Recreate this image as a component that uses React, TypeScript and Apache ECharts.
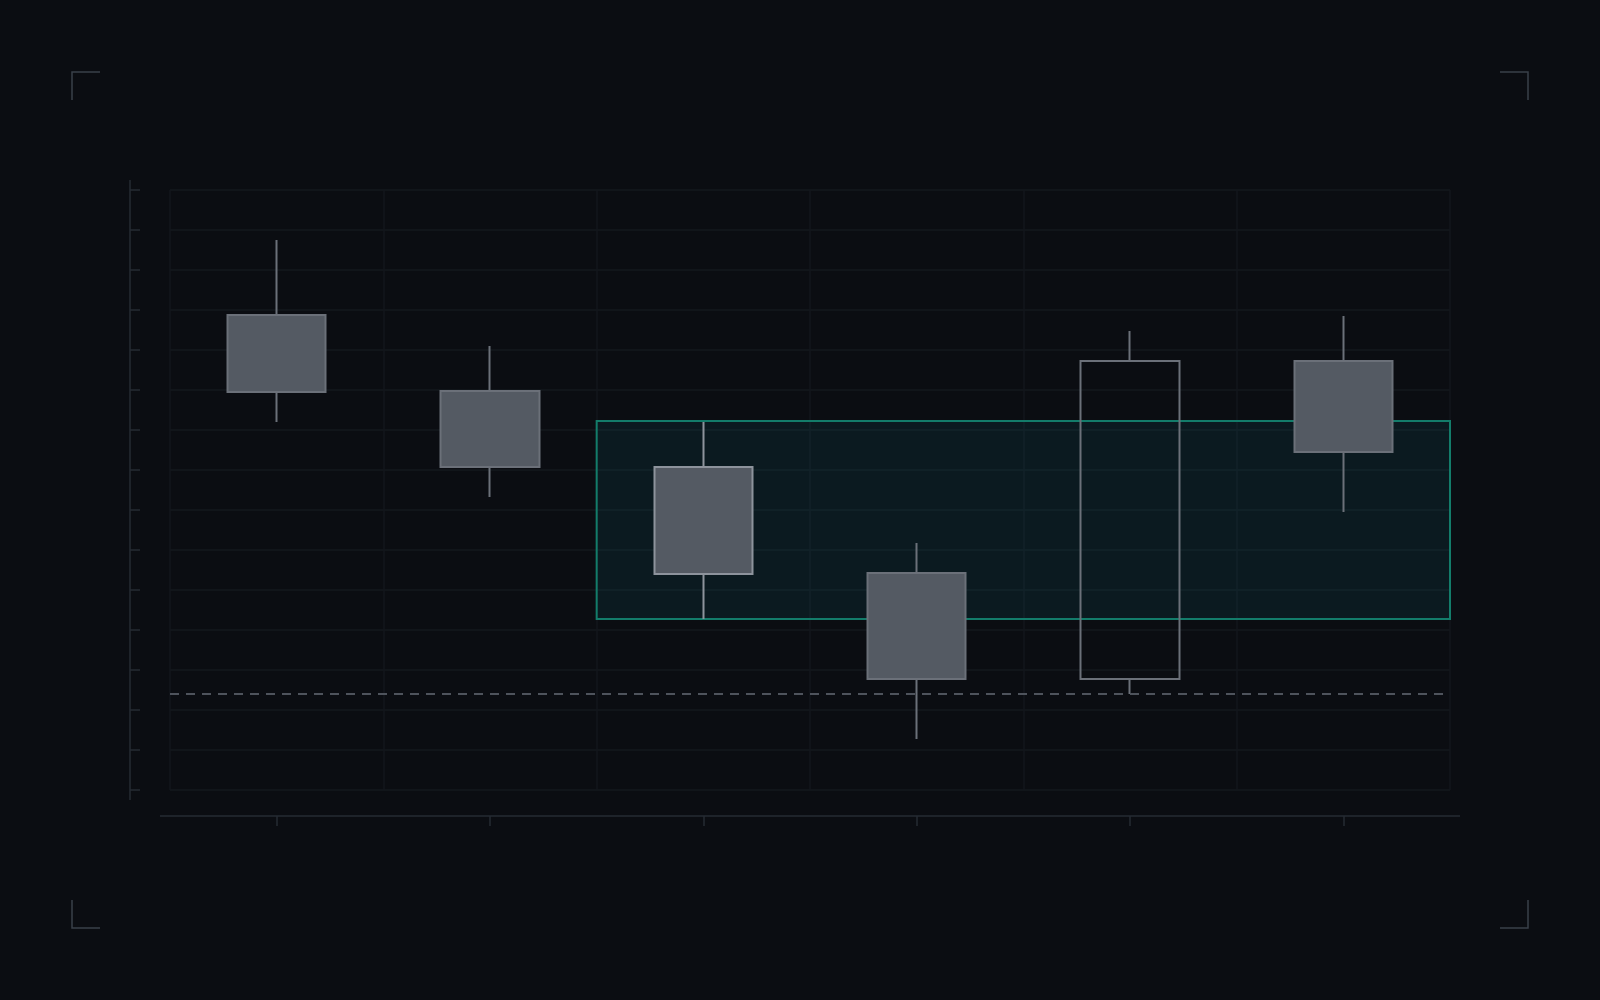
// 蜡烛图 + 区间标注
import * as echarts from 'echarts'
import type { EChartsOption } from 'echarts'
import { useEffect, useRef } from 'react'

const categories = ['D1', 'D2', 'D3', 'D4', 'D5', 'D6']
// [open, close, lowest, highest]
const candles: number[][] = [
  [118.75, 99.5, 92, 137.5],
  [99.75, 80.75, 73.25, 111],
  [80.75, 54, 42.75, 92],
  [54.25, 27.75, 12.75, 61.75],
  [27.75, 107.25, 24, 114.75],
  [107.25, 84.5, 69.5, 118.5],
]
const highlightIndex = 2
const zoneRange = [42.75, 92.25]
const zoneStart = 2
const supportLevel = 24
const yMin = 0
const yMax = 150
const yStep = 10

const BG = '#0b0d12'
const GRID_LINE = '#15181e'
const AXIS = '#262b33'
const BRACKET = '#3a404a'

const App = () => {
  const chartRef = useRef<HTMLDivElement | null>(null)
  useEffect(() => {
    if (!chartRef.current) return
    const myChart = echarts.init(chartRef.current, null, { renderer: 'svg' })

    const bracket = (pts: number[][]) => ({
      type: 'polyline',
      shape: { points: pts },
      style: { stroke: BRACKET, lineWidth: 1.5, fill: 'none' },
      silent: true,
    })

    const option: EChartsOption = {
      animation: false,
      backgroundColor: BG,
      grid: { left: 170, top: 190, right: 150, bottom: 210 },
      xAxis: [
        {
          type: 'category',
          data: categories,
          offset: 26,
          axisLine: { show: false, onZero: false },
          axisTick: { show: true, alignWithLabel: true, length: 10, lineStyle: { color: AXIS, width: 1.5 } },
          axisLabel: { show: false },
          splitLine: { show: true, interval: 0, lineStyle: { color: '#13161c', width: 1.5 } },
        },
        {
          type: 'value',
          min: 0,
          max: categories.length,
          show: false,
          axisLine: { onZero: false },
        },
      ],
      yAxis: {
        type: 'value',
        min: yMin,
        max: yMax,
        interval: yStep,
        offset: 40,
        axisLine: { show: false, onZero: false },
        axisTick: { show: true, inside: true, length: 10, lineStyle: { color: AXIS, width: 1.5 } },
        axisLabel: { show: false },
        splitLine: { show: true, lineStyle: { color: GRID_LINE, width: 1.5 } },
      },
      series: [
        {
          type: 'candlestick',
          xAxisIndex: 0,
          barWidth: 99,
          z: 2,
          itemStyle: {
            color: 'transparent',
            color0: '#545a63',
            borderColor: '#6b7079',
            borderColor0: '#6b7079',
            borderWidth: 2,
          },
          data: candles.map((c, i) =>
            i === highlightIndex
              ? { value: c, itemStyle: { borderColor0: '#8d939c', borderColor: '#8d939c' } }
              : c
          ),
        },
        {
          // 支撑位虚线
          type: 'line',
          xAxisIndex: 1,
          z: 3,
          silent: true,
          symbol: 'none',
          lineStyle: { color: '#4e535c', type: [9, 7], width: 2 },
          data: [
            [0, supportLevel],
            [categories.length, supportLevel],
          ],
        },
        {
          type: 'line',
          xAxisIndex: 1,
          data: [],
          z: 5,
          markArea: {
            silent: true,
            itemStyle: {
              color: 'rgba(20,120,140,0.12)',
              borderColor: '#137c6a',
              borderWidth: 2,
            },
            label: { show: false },
            data: [[
              { xAxis: zoneStart, yAxis: zoneRange[1] },
              { xAxis: categories.length, yAxis: zoneRange[0] },
            ]],
          },
        },
      ],
      graphic: [
        {
          type: 'line',
          shape: { x1: 130, y1: 180, x2: 130, y2: 800 },
          style: { stroke: AXIS, lineWidth: 1.5 },
          silent: true,
        },
        {
          type: 'line',
          shape: { x1: 160, y1: 816, x2: 1460, y2: 816 },
          style: { stroke: AXIS, lineWidth: 1.5 },
          silent: true,
        },
        bracket([[72, 100], [72, 72], [100, 72]]),
        bracket([[1500, 72], [1528, 72], [1528, 100]]),
        bracket([[72, 900], [72, 928], [100, 928]]),
        bracket([[1500, 928], [1528, 928], [1528, 900]]),
      ] as any,
    }

    myChart.setOption(option)
    return () => {
      myChart.dispose()
    }
  }, [])
  return (
    <div
      ref={chartRef}
      style={{ position: 'fixed', left: 0, top: 0, width: '1600px', height: '1000px' }}
    ></div>
  )
}
export default App
